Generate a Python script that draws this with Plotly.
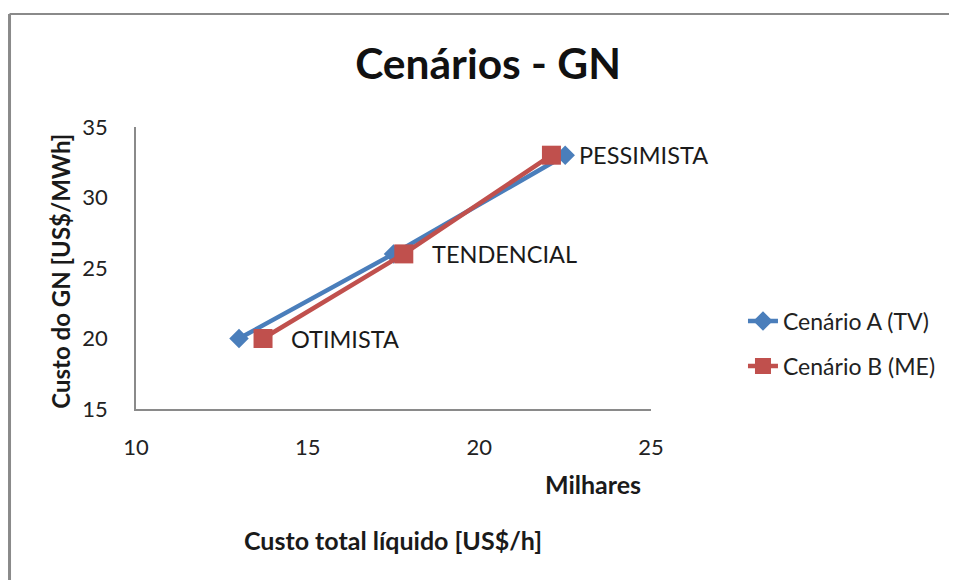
import plotly.graph_objects as go

# Data
scenario_labels = ["OTIMISTA", "TENDENCIAL", "PESSIMISTA"]
a_name = "Cenário A (TV)"
a_x = [13.0, 17.5, 22.5]
a_y = [20, 26, 33]
b_name = "Cenário B (ME)"
b_x = [13.7, 17.8, 22.1]
b_y = [20, 26, 33]
x_ticks = [10, 15, 20, 25]
y_ticks = [15, 20, 25, 30, 35]

FONT = "Lato"
BLUE = "#4A7EBB"
RED = "#C0504D"

fig = go.Figure()
fig.add_trace(go.Scatter(
    x=a_x, y=a_y, name=a_name, mode="lines+markers",
    line=dict(color=BLUE, width=4.5),
    marker=dict(symbol="diamond", size=15, color=BLUE),
    legend="legend", showlegend=True,
))
fig.add_trace(go.Scatter(
    x=b_x, y=b_y, name=b_name, mode="lines+markers",
    line=dict(color=RED, width=4.5),
    marker=dict(symbol="square", size=19, color=RED),
    legend="legend2", showlegend=True,
))

annotations = []
for lx, ly, lab in zip(b_x, b_y, scenario_labels):
    annotations.append(dict(x=lx, y=ly, xref="x", yref="y", text=lab,
                            showarrow=False, xanchor="left", yanchor="middle",
                            xshift=26, font=dict(family=FONT, size=23.5, color="#1a1a1a")))

annotations += [
    dict(text="<b>Custo do GN [US$/MWh]</b>", xref="paper", yref="paper",
         x=-0.1456, y=0.487, textangle=-90, showarrow=False,
         xanchor="center", yanchor="middle",
         font=dict(family=FONT, size=24, color="#1a1a1a")),
    dict(text="<b>Milhares</b>", xref="paper", yref="paper",
         x=0.887, y=-0.266, showarrow=False, xanchor="center", yanchor="middle",
         font=dict(family=FONT, size=25, color="#1a1a1a")),
    dict(text="<b>Custo total líquido [US$/h]</b>", xref="paper", yref="paper",
         x=0.499, y=-0.4645, showarrow=False, xanchor="center", yanchor="middle",
         font=dict(family=FONT, size=25, color="#1a1a1a")),
]

shapes = [
    dict(type="line", xref="paper", yref="paper", x0=-0.2456, x1=-0.2456,
         y0=-1.0, y1=1.4007, line=dict(color="#8a8a8a", width=3)),
    dict(type="line", xref="paper", yref="paper", x0=-0.2456, x1=2.0,
         y0=1.4007, y1=1.4007, line=dict(color="#8a8a8a", width=2)),
]

fig.update_layout(
    width=957, height=580,
    margin=dict(l=128, r=314, t=119, b=179),
    paper_bgcolor="white", plot_bgcolor="white",
    showlegend=True,
    font=dict(family=FONT, size=22, color="#1a1a1a"),
    title=dict(text="<b>Cenários - GN</b>", x=0.5016, y=0.9034,
               xanchor="center", yanchor="middle", xref="container", yref="container",
               font=dict(family=FONT, size=42.5, color="#111111")),
    xaxis=dict(range=[10, 25], tickvals=x_ticks, showgrid=False, zeroline=False,
               showline=True, linecolor="#8a8a8a", linewidth=1.5, ticks="",
               ticklabelstandoff=18, tickfont=dict(family=FONT, size=22, color="#222222")),
    yaxis=dict(range=[15, 35], tickvals=y_ticks, showgrid=False, zeroline=False,
               showline=True, linecolor="#8a8a8a", linewidth=1.5, ticks="",
               ticklabelstandoff=22, tickfont=dict(family=FONT, size=22, color="#222222")),
    legend=dict(x=1.1786, y=0.312, xanchor="left", yanchor="middle",
                font=dict(family=FONT, size=23, color="#222222"),
                bgcolor="rgba(0,0,0,0)", itemwidth=30),
    legend2=dict(x=1.1786, y=0.152, xanchor="left", yanchor="middle",
                 font=dict(family=FONT, size=23, color="#222222"),
                 bgcolor="rgba(0,0,0,0)", itemwidth=30),
    annotations=annotations,
    shapes=shapes,
)

fig.write_html("out.html")
